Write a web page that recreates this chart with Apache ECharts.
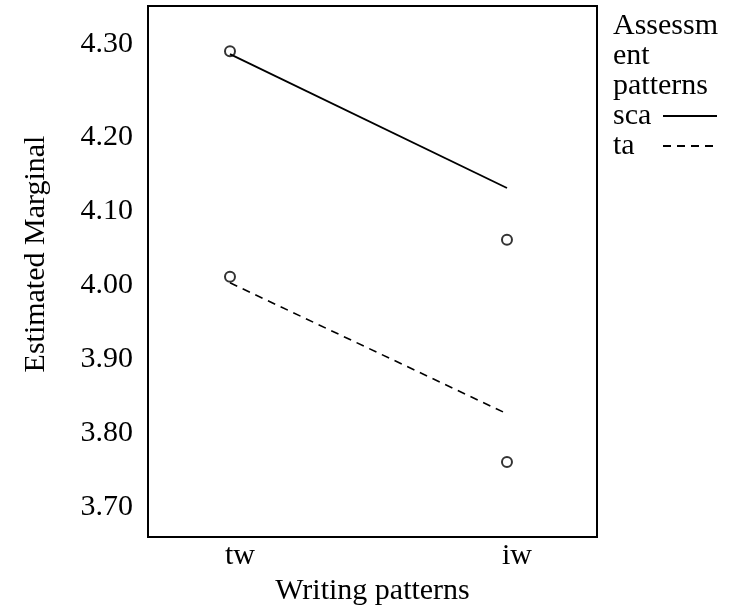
<!DOCTYPE html>
<html>
<head>
<meta charset="utf-8">
<script src="https://cdn.jsdelivr.net/npm/echarts@6/dist/echarts.min.js"></script>
<style>
html,body{margin:0;padding:0;background:#fff;}
#chart{width:729px;height:611px;}
</style>
</head>
<body>
<div id="chart"></div>
<script>
// ---- data ----
var categories = ['tw', 'iw'];
var seriesNames = ['sca', 'ta'];
// line endpoints (as drawn)
var scaLine = [4.312, 4.131];
var taLine = [4.003, 3.826];
// circle markers (as drawn)
var scaPoints = [4.316, 4.061];
var taPoints = [4.011, 3.761];
var yTicks = [3.70, 3.80, 3.90, 4.00, 4.10, 4.20, 4.30];
var legendTitle = 'Assessm\nent\npatterns';
var xTitle = 'Writing patterns';
var yTitle = 'Estimated Marginal';

var FONT = '"Liberation Serif", "Times New Roman", serif';

function pairs(vals) {
  return vals.map(function (v, i) { return [i, v]; });
}

var chart = echarts.init(document.getElementById('chart'), null, {renderer: 'canvas'});
chart.setOption({
  backgroundColor: '#ffffff',
  animation: false,
  title: {
    text: legendTitle,
    left: 613,
    top: 11,
    padding: 0,
    textStyle: {fontFamily: FONT, fontSize: 30, fontWeight: 'normal', color: '#000', lineHeight: 30}
  },
  legend: {
    data: seriesNames,
    orient: 'vertical',
    left: 613,
    top: 101,
    padding: 0,
    itemGap: 0,
    align: 'right',
    itemWidth: 54,
    itemHeight: 14,
    itemStyle: {color: 'transparent', borderColor: 'transparent', borderWidth: 0},
    formatter: function (name) { return '{n|' + name + '}'; },
    textStyle: {
      fontFamily: FONT, fontSize: 30, color: '#000', lineHeight: 30,
      rich: {n: {fontFamily: FONT, fontSize: 30, color: '#000', lineHeight: 30, width: 45, align: 'left'}}
    }
  },
  grid: {left: 148, right: 132, top: 6, bottom: 74, show: true, borderColor: '#000', borderWidth: 2, backgroundColor: 'transparent'},
  xAxis: {
    type: 'value',
    min: -0.296,
    max: 1.325,
    axisLine: {show: false},
    axisTick: {show: false},
    splitLine: {show: false},
    axisLabel: {
      customValues: [0, 1],
      formatter: function (v) { return categories[Math.round(v)]; },
      fontFamily: FONT, fontSize: 30, color: '#000', margin: 4,
      padding: [0, 0, 0, 20]
    },
    name: xTitle,
    nameLocation: 'middle',
    nameGap: 30,
    nameTextStyle: {fontFamily: FONT, fontSize: 30, color: '#000'}
  },
  yAxis: {
    type: 'value',
    min: 3.6595,
    max: 4.377,
    axisLine: {show: false},
    axisTick: {show: false},
    splitLine: {show: false},
    axisLabel: {
      customValues: yTicks,
      formatter: function (v) {
        var s = v.toFixed(2);
        return Math.abs(v - 4.3) < 1e-6 ? '{top|' + s + '}' : s;
      },
      fontFamily: FONT, fontSize: 30, color: '#000', margin: 15,
      rich: {top: {fontFamily: FONT, fontSize: 30, color: '#000', padding: [0, 0, 38, 0]}}
    },
    name: yTitle,
    nameLocation: 'middle',
    nameRotate: 90,
    nameGap: 97,
    nameTextStyle: {fontFamily: FONT, fontSize: 30, color: '#000', padding: [0, 0, 0, 35]}
  },
  series: [
    {
      name: 'sca', type: 'line', data: pairs(scaLine), symbol: 'none',
      lineStyle: {color: '#000', width: 1.8, type: 'solid'},
      itemStyle: {color: '#000'}
    },
    {
      name: 'ta', type: 'line', data: pairs(taLine), symbol: 'none',
      lineStyle: {color: '#000', width: 1.6, type: [8, 6]},
      itemStyle: {color: '#000'}
    },
    {
      name: 'sca points', type: 'scatter', data: pairs(scaPoints), symbol: 'circle', symbolSize: 10,
      itemStyle: {color: '#fff', borderColor: '#000', borderWidth: 2}
    },
    {
      name: 'ta points', type: 'scatter', data: pairs(taPoints), symbol: 'circle', symbolSize: 10,
      itemStyle: {color: '#fff', borderColor: '#000', borderWidth: 2}
    }
  ]
});
</script>
</body>
</html>
